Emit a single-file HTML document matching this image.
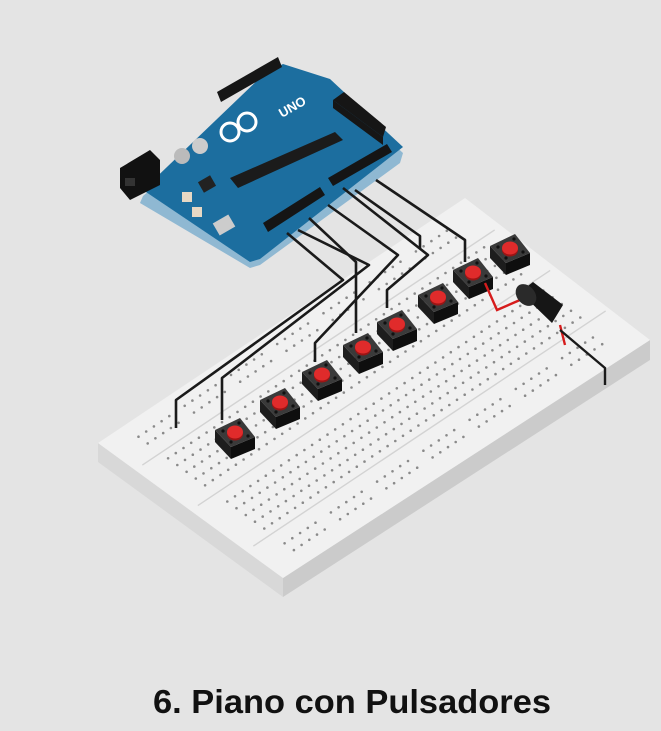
<!DOCTYPE html>
<html><head><meta charset="utf-8"><style>
html,body{margin:0;padding:0;background:#e4e4e4;}
svg{display:block;}
</style></head><body>
<svg id="s" width="661" height="731" viewBox="0 0 661 731" xmlns="http://www.w3.org/2000/svg">
<rect width="661" height="731" fill="#e4e4e4"/>
<!-- breadboard -->
<polygon points="98,443 283,578 283,597 98,462" fill="#d8d8d8"/>
<polygon points="283,578 650,340 650,360 283,597" fill="#cbcbcb"/>
<polygon points="98,443 465,198 650,340 283,578" fill="#f1f1f1"/>
<g id="bb" stroke="#d3d3d3" stroke-width="1.4"></g>
<g id="holes" fill="#8a8a8a"></g>
<!-- arduino -->
<polygon points="143,196 150,190 265,79 283,70 330,85 403,153 400,163 260,265 250,268 140,203" fill="#8fb8d2"/>
<polygon points="143,190 265,73 283,64 330,79 403,147 260,259 250,262" fill="#1c6e9f"/>
<polygon points="120,168 150,150 160,160 160,185 130,200 120,188" fill="#111"/>
<rect x="125" y="178" width="10" height="8" fill="#333"/>
<circle cx="182" cy="156" r="8" fill="#bbb"/><circle cx="200" cy="146" r="8" fill="#ccc"/>
<polygon points="217,92 278,57 282,67 221,102" fill="#161616"/>
<polygon points="333,100 344,92 386,127 383,137" fill="#161616"/>
<polygon points="333,100 383,137 383,145 333,108" fill="#161616"/>
<polygon points="230,178 335,132 343,140 238,188" fill="#1b1b1b"/>
<polygon points="263,223 320,187 325,195 268,232" fill="#151515"/>
<polygon points="328,178 387,144 392,152 333,186" fill="#151515"/>
<rect x="215" y="218" width="18" height="14" fill="#ccc" transform="rotate(-30 224 225)"/>
<rect x="182" y="192" width="10" height="10" fill="#e7d8c4"/><rect x="192" y="207" width="10" height="10" fill="#e7d8c4"/>
<rect x="200" y="178" width="14" height="12" fill="#222" transform="rotate(-30 207 184)"/>
<circle cx="230" cy="132" r="9" fill="none" stroke="#fff" stroke-width="3"/><circle cx="247" cy="122" r="9" fill="none" stroke="#fff" stroke-width="3"/>
<text x="282" y="118" fill="#fff" font-family="Liberation Sans" font-weight="bold" font-size="13" transform="rotate(-30 282 118)">UNO</text>
<!-- wires -->
<g fill="none" stroke="#1a1a1a" stroke-width="2.6" stroke-linejoin="round">
<path d="M287,233 L343,280 L176,400 L176,428"/>
<path d="M298,230 L369,265 L222,378 L222,420"/>
<path d="M309,218 L356,262 L356,333"/>
<path d="M328,205 L398,255 L315,343 L315,362"/>
<path d="M343,188 L428,255 L387,290 L387,308"/>
<path d="M355,190 L420,236 L420,248"/>
<path d="M376,180 L465,240 L465,262"/>
</g>
<g id="btns"></g>
<!-- buzzer -->
<path d="M485,283 L497,310 L520,300" fill="none" stroke="#d61c1c" stroke-width="2.4"/>
<path d="M560,325 L565,345" fill="none" stroke="#d61c1c" stroke-width="2.4"/>
<path d="M560,330 L605,368 L605,385" fill="none" stroke="#1a1a1a" stroke-width="2.4"/>
<polygon points="520,292 533,282 563,305 552,323" fill="#161616"/>
<ellipse cx="526" cy="295" rx="9" ry="12" fill="#2a2a2a" transform="rotate(-40 526 295)"/>
<text x="352" y="713" text-anchor="middle" font-family="Liberation Sans, sans-serif" font-weight="bold" font-size="33" fill="#111" textLength="398" lengthAdjust="spacingAndGlyphs">6. Piano con Pulsadores</text>
</svg>
<script>
var NS="http://www.w3.org/2000/svg";
var L=[98,443],T=[465,198],B=[283,578];
function P(s,t){return [L[0]+s*(T[0]-L[0])+t*(B[0]-L[0]), L[1]+s*(T[1]-L[1])+t*(B[1]-L[1])];}
var h=document.getElementById("holes"),bb=document.getElementById("bb");
function line(t){var a=P(0.02,t),b=P(0.98,t);var l=document.createElementNS(NS,"line");l.setAttribute("x1",a[0]);l.setAttribute("y1",a[1]);l.setAttribute("x2",b[0]);l.setAttribute("y2",b[1]);bb.appendChild(l);}
[0.2,0.5,0.8].forEach(line);
function dot(s,t){var p=P(s,t);var c=document.createElementNS(NS,"circle");c.setAttribute("cx",p[0].toFixed(1));c.setAttribute("cy",p[1].toFixed(1));c.setAttribute("r","1.3");h.appendChild(c);}
var rows=[0.08,0.13, 0.24,0.29,0.34,0.39,0.44, 0.56,0.61,0.66,0.71,0.76, 0.87,0.92];
for(var i=0;i<42;i++){var s=0.07+i*0.021;rows.forEach(function(t,ri){if((ri<2||ri>11)&&(i%6==5))return;dot(s,t);});}
var g=document.getElementById("btns");
[[235,430],[280,400],[322,372],[363,345],[397,322],[438,295],[473,270],[510,246]].forEach(function(c){
var x=c[0],y=c[1];
g.insertAdjacentHTML("beforeend",
'<polygon points="'+(x-20)+','+(y)+' '+(x-4)+','+(y+17)+' '+(x-4)+','+(y+29)+' '+(x-20)+','+(y+12)+'" fill="#1d1d1d"/>'+
'<polygon points="'+(x-4)+','+(y+17)+' '+(x+20)+','+(y+7)+' '+(x+20)+','+(y+19)+' '+(x-4)+','+(y+29)+'" fill="#0e0e0e"/>'+
'<polygon points="'+(x-20)+','+(y)+' '+(x+5)+','+(y-12)+' '+(x+20)+','+(y+7)+' '+(x-4)+','+(y+17)+'" fill="#3a3a3a"/>'+
'<circle cx="'+(x-12)+'" cy="'+(y+1)+'" r="1.6" fill="#111"/><circle cx="'+(x+4)+'" cy="'+(y-7)+'" r="1.6" fill="#111"/><circle cx="'+(x+13)+'" cy="'+(y+6)+'" r="1.6" fill="#111"/><circle cx="'+(x-4)+'" cy="'+(y+12)+'" r="1.6" fill="#111"/>'+
'<ellipse cx="'+x+'" cy="'+(y+4)+'" rx="8" ry="6.5" fill="#9c1515"/><ellipse cx="'+x+'" cy="'+(y+2)+'" rx="8" ry="6.5" fill="#e02b2b"/>');
});
</script>
</body></html>
